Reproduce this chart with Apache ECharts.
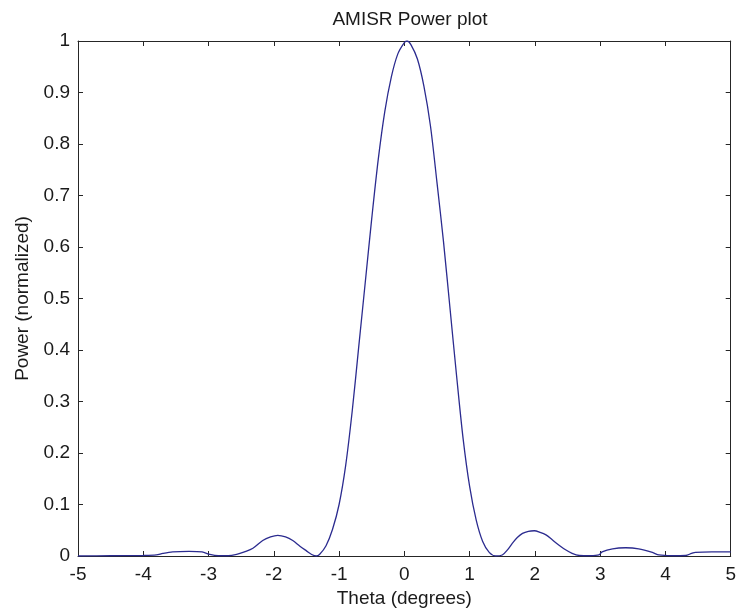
<!DOCTYPE html>
<html>
<head>
<meta charset="utf-8">
<script src="https://cdn.jsdelivr.net/npm/echarts@6/dist/echarts.min.js"></script>
<style>html,body{margin:0;padding:0;background:#fff;}#c{width:739px;height:613px;}</style>
</head>
<body>
<div id="c"></div>
<script>
const chartTitle = "AMISR Power plot";
const xName = "Theta (degrees)";
const yName = "Power (normalized)";
const theta = [-5.0,-4.5,-4.0,-3.8,-3.7,-3.55,-3.3,-3.1,-2.98,-2.85,-2.7,-2.57,-2.45,-2.32,-2.17,-2.05,-1.94,-1.82,-1.71,-1.6,-1.5,-1.42,-1.35,-1.3,-1.2,-1.1,-1.0,-0.9,-0.8,-0.7,-0.6,-0.5,-0.4,-0.3,-0.2,-0.1,0.0,0.04,0.1,0.2,0.3,0.4,0.5,0.6,0.7,0.8,0.9,1.0,1.1,1.2,1.3,1.4,1.5,1.58,1.656,1.73,1.81,1.9,1.99,2.08,2.17,2.27,2.37,2.47,2.57,2.68,2.85,2.98,3.03,3.19,3.39,3.59,3.8,3.9,4.1,4.31,4.4,4.46,4.71,5.0];
const power = [0,0.0005,0.001,0.002,0.005,0.008,0.009,0.008,0.003,0.0005,0.0005,0.003,0.008,0.015,0.03,0.037,0.04,0.037,0.03,0.019,0.01,0.003,0,0.003,0.02,0.052,0.1,0.175,0.28,0.405,0.53,0.655,0.77,0.863,0.93,0.975,0.997,1.0,0.993,0.965,0.912,0.835,0.725,0.61,0.48,0.35,0.228,0.135,0.07,0.028,0.007,0,0.002,0.012,0.025,0.036,0.044,0.048,0.049,0.046,0.041,0.031,0.021,0.012,0.005,0.001,0.0005,0.002,0.008,0.014,0.016,0.014,0.007,0.002,0.0005,0.001,0.005,0.007,0.008,0.008];

const data = theta.map((t, i) => [t, power[i]]);
const chart = echarts.init(document.getElementById('c'));
const font = 'Liberation Sans, Arial, sans-serif';
const fs = 19;
const txt = '#1a1a1a';
const axisCol = '#262626';
const common = {
  axisLine: {show: true, onZero: false, lineStyle: {color: axisCol, width: 1}},
  axisTick: {show: true, inside: true, length: 5, lineStyle: {color: axisCol}},
  splitLine: {show: false}
};
chart.setOption({
  animation: false,
  backgroundColor: '#ffffff',
  title: {text: chartTitle, left: 405, textAlign: 'center', top: 5,
    textStyle: {fontFamily: font, fontSize: fs, fontWeight: 'normal', color: txt}},
  grid: {left: 78, right: 7, top: 41, bottom: 57, containLabel: false},
  xAxis: [
    Object.assign({type: 'value', min: -5, max: 5, interval: 1, position: 'bottom',
      name: xName, nameLocation: 'middle', nameGap: 23,
      nameTextStyle: {fontFamily: font, fontSize: fs, color: txt},
      axisLabel: {margin: 9, fontFamily: font, fontSize: fs, color: txt}}, common),
    Object.assign({type: 'value', min: -5, max: 5, interval: 1, position: 'top',
      axisLabel: {show: false}}, common)
  ],
  yAxis: [
    Object.assign({type: 'value', min: 0, max: 1, interval: 0.1, position: 'left',
      name: yName, nameLocation: 'middle', nameGap: 44,
      nameTextStyle: {fontFamily: font, fontSize: fs, color: txt},
      axisLabel: {margin: 8, fontFamily: font, fontSize: fs, color: txt,
        formatter: v => String(Math.round(v * 10) / 10)}}, common),
    Object.assign({type: 'value', min: 0, max: 1, interval: 0.1, position: 'right',
      axisLabel: {show: false}}, common)
  ],
  series: [{
    type: 'line', data: data, smooth: 0.3, showSymbol: false,
    lineStyle: {color: '#2b2b8f', width: 1.3}, xAxisIndex: 0, yAxisIndex: 0
  }]
});
</script>
</body>
</html>
